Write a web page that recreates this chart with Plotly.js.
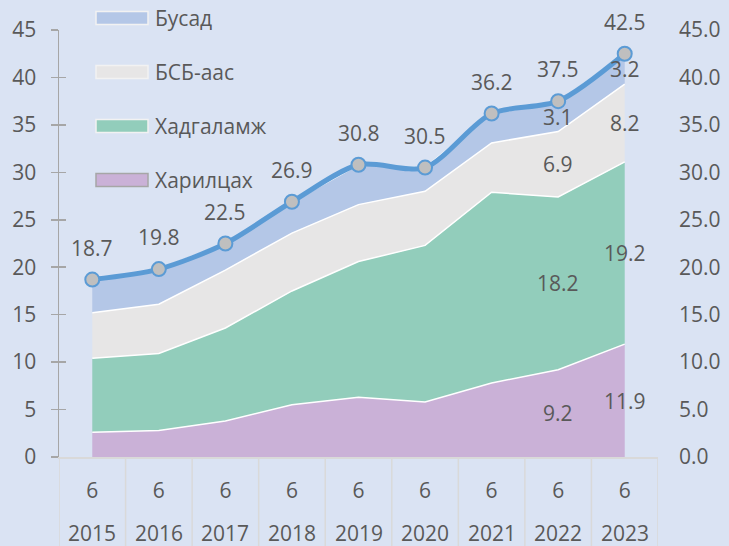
<!DOCTYPE html>
<html><head><meta charset="utf-8">
<script src="https://cdn.plot.ly/plotly-3.0.1.min.js"></script>
<style>html,body{margin:0;padding:0;background:#DAE3F3}</style>
</head><body><div id="chart" style="width:729px;height:546px"></div>
<script>
const years = ['2015','2016','2017','2018','2019','2020','2021','2022','2023'];
const months = ['6','6','6','6','6','6','6','6','6'];
const khariltsakh = [2.6, 2.8, 3.8, 5.5, 6.3, 5.8, 7.8, 9.2, 11.9];
const khadgalamj = [7.8, 8.1, 9.8, 12.0, 14.3, 16.5, 20.1, 18.2, 19.2];
const bsb = [4.8, 5.2, 6.1, 6.1, 6.0, 5.7, 5.2, 6.9, 8.2];
const busad = [3.5, 3.7, 2.8, 3.3, 4.2, 2.5, 3.1, 3.1, 3.2];
const total = [18.7, 19.8, 22.5, 26.9, 30.8, 30.5, 36.2, 37.5, 42.5];
const labelledIdx = [7, 8];

const names = ['Харилцах', 'Хадгаламж', 'БСБ-аас', 'Бусад'];
const series = [khariltsakh, khadgalamj, bsb, busad];
const colors = ['#CAB1D7', '#92CDBB', '#E7E6E6', '#B4C7E7'];
const legendBorders = ['#A6A6A6', '#F2F2F2', '#F2F2F2', '#F2F2F2'];
const textColor = '#595959';
const FONT = 'Open Sans';
const FS = 21;

// plot area in pixels
const W = 729, H = 546, L = 59, R = 71, T = 30, B = 89;
const pw = W - L - R, ph = H - T - B;
const px = v => (v - L) / pw;
const py = v => (H - B - v) / ph;

const traces = series.map((s, i) => ({
  type: 'scatter', mode: 'lines', x: years, y: s, name: names[i],
  stackgroup: 'one', fillcolor: colors[i],
  line: {color: '#FFFFFF', width: 1.5}, hoverinfo: 'skip', showlegend: false
}));
traces.push({
  type: 'scatter', mode: 'lines+markers', x: years, y: total,
  line: {color: '#5B9BD5', width: 5, shape: 'spline', smoothing: 0.8},
  marker: {size: 14, color: '#BFBFBF', line: {color: '#5B9BD5', width: 2}},
  showlegend: false, cliponaxis: false
});
traces.push({type: 'scatter', mode: 'none', x: years, y: total, yaxis: 'y2', showlegend: false, hoverinfo: 'skip'});
traces.push({type: 'scatter', mode: 'none', x: years, y: total, yaxis: 'y3', showlegend: false, hoverinfo: 'skip'});

const annotations = [];
const shapes = [];
// labels on stacked areas (middle of each band)
labelledIdx.forEach(j => {
  let base = 0;
  series.forEach((s, i) => {
    annotations.push({x: j, y: base + s[j] / 2, xref: 'x', yref: 'y', text: s[j].toFixed(1),
      showarrow: false, font: {family: FONT, size: FS, color: textColor}});
    base += s[j];
  });
});
// total labels
total.forEach((v, j) => annotations.push({x: j, y: v, xref: 'x', yref: 'y', text: v.toFixed(1),
  showarrow: false, yshift: 32, font: {family: FONT, size: FS, color: textColor}}));
// year labels (outer category row)
years.forEach((yr, j) => annotations.push({x: j, y: py(533), xref: 'x', yref: 'paper', text: yr,
  showarrow: false, yanchor: 'middle', font: {family: FONT, size: FS, color: textColor}}));
// category dividers
for (let k = 0; k <= years.length; k++) {
  shapes.push({type: 'line', xref: 'x', yref: 'paper', x0: k - 0.5, x1: k - 0.5, y0: 0, y1: py(H + 2),
    line: {color: '#D9D9D9', width: 1.5}, layer: 'below'});
}
// custom legend (top to bottom: Бусад, БСБ-аас, Хадгаламж, Харилцах)
const legendY = [18, 72, 126, 180];
for (let i = 0; i < 4; i++) {
  const idx = 3 - i;
  const cy = legendY[i];
  shapes.push({type: 'rect', xref: 'paper', yref: 'paper', x0: px(96), x1: px(148), y0: py(cy + 6.5), y1: py(cy - 6.5),
    fillcolor: colors[idx], line: {color: legendBorders[idx], width: 1.5}});
  annotations.push({xref: 'paper', yref: 'paper', x: px(153), y: py(cy), xanchor: 'left', yanchor: 'middle',
    text: names[idx], showarrow: false, font: {family: FONT, size: FS, color: textColor}});
}

const layout = {
  width: W, height: H,
  paper_bgcolor: '#DAE3F3', plot_bgcolor: '#DAE3F3',
  margin: {l: L, r: R, t: T, b: B},
  font: {family: FONT, size: FS, color: textColor},
  showlegend: false,
  xaxis: {type: 'category', range: [-0.5, years.length - 0.5], tickvals: years, ticktext: months,
    showgrid: false, showline: true, linecolor: '#D9D9D9', linewidth: 1.5, ticks: '',
    ticklabelstandoff: 14, tickfont: {family: FONT, size: FS, color: textColor}},
  yaxis: {range: [0, 45], dtick: 5, showgrid: false, zeroline: false, showline: true,
    linecolor: '#A6A6A6', linewidth: 1.5, ticks: 'outside', ticklen: 7, tickcolor: '#A6A6A6',
    tickwidth: 1.5, ticklabelstandoff: 10, tickfont: {family: FONT, size: FS, color: textColor}},
  yaxis2: {range: [0, 45], dtick: 5, tickformat: '.1f', overlaying: 'y', side: 'right',
    showgrid: false, zeroline: false, showline: false, ticks: '', ticklabelstandoff: 20,
    tickfont: {family: FONT, size: FS, color: textColor}},
  yaxis3: {range: [0, 45], dtick: 5, overlaying: 'y', side: 'left', showticklabels: false,
    showgrid: false, zeroline: false, showline: false, ticks: 'inside', ticklen: 7,
    tickcolor: '#A6A6A6', tickwidth: 1.5},
  annotations: annotations,
  shapes: shapes
};
Plotly.newPlot('chart', traces, layout, {displayModeBar: false, staticPlot: true});
</script></body></html>
